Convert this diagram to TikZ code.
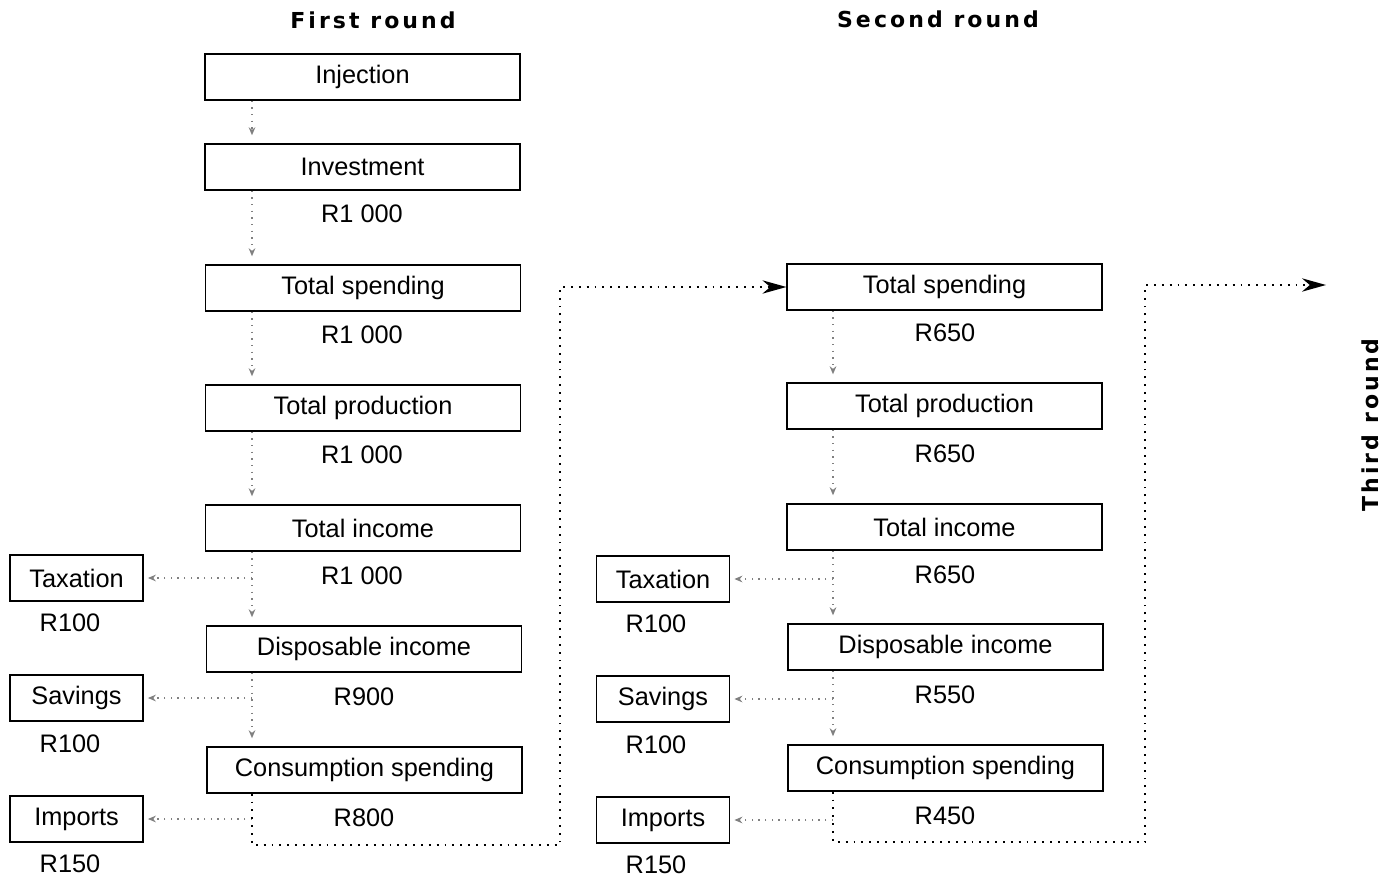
\documentclass[tikz,border=0pt]{standalone}
\usepackage{fontspec}
\setmainfont{Liberation Sans}
\newfontfamily\headfont[LetterSpace=14]{DejaVu Sans}
\usetikzlibrary{arrows.meta}
\begin{document}
\begin{tikzpicture}[x=0.75pt,y=-0.75pt,
  box/.style={draw, line width=1.1pt, minimum width=236pt, minimum height=34.5pt, inner sep=0pt, font=\fontsize{19}{22}\selectfont},
  sbox/.style={draw, line width=1.1pt, minimum width=100pt, minimum height=34.5pt, inner sep=0pt, font=\fontsize{19}{22}\selectfont},
  val/.style={inner sep=0pt, font=\fontsize{19}{22}\selectfont},
  head/.style={inner sep=0pt, font=\headfont\bfseries\fontsize{16.5}{19}\selectfont},
  flow/.style={dash pattern=on 1pt off 4pt, draw=gray, line width=0.9pt, -{Stealth[length=6pt,width=5pt]}, shorten >=6pt},
  side/.style={dash pattern=on 1pt off 4pt, draw=gray, line width=0.9pt, -{Stealth[length=6pt,width=5pt]}, shorten >=3pt},
  loopline/.style={dash pattern=on 1.4pt off 4.5pt, line width=1.4pt, -{Stealth[length=18pt,width=10pt]}}]
\useasboundingbox (0,0) rectangle (1395,880);

% headings
\node[head] (h1) at (373,20) {First round};
\node[head] (h2) at (938,19) {Second round};
\node[head, rotate=90] (h3) at (1370,425) {Third round};

% first round
\node[box] (inj1) at (362.5,77) {Injection};
\node[box] (inv1) at (362.5,167) {Investment};
\node[val] (v0) at (362,214) {R1 000};
\node[box] (ts1) at (363,288) {Total spending};
\node[val] (v1) at (362,335) {R1 000};
\node[box] (tp1) at (363,408) {Total production};
\node[val] (v2) at (362,455) {R1 000};
\node[box] (ti1) at (363,528) {Total income};
\node[val] (v3) at (362,576) {R1 000};
\node[box] (di1) at (364,649) {Disposable income};
\node[val] (v4) at (364,697) {R900};
\node[box] (cs1) at (364.5,770) {Consumption spending};
\node[val] (v5) at (364,818) {R800};

\node[sbox] (tax1) at (76.5,578) {Taxation};
\node[val] (t1v) at (70,623) {R100};
\node[sbox] (sav1) at (76.5,698) {Savings};
\node[val] (s1v) at (70,744) {R100};
\node[sbox] (imp1) at (76.5,819) {Imports};
\node[val] (i1v) at (70,864) {R150};

\coordinate (c1) at (252,0);
\draw[flow] (inj1.south -| c1) -- (inv1.north -| c1);
\draw[flow] (inv1.south -| c1) -- (ts1.north -| c1);
\draw[flow] (ts1.south -| c1) -- (tp1.north -| c1);
\draw[flow] (tp1.south -| c1) -- (ti1.north -| c1);
\draw[flow] (ti1.south -| c1) -- (di1.north -| c1);
\draw[flow] (di1.south -| c1) -- (cs1.north -| c1);
\draw[side] (tax1.east -| c1) -- (tax1.east);
\draw[side] (sav1.east -| c1) -- (sav1.east);
\draw[side] (imp1.east -| c1) -- (imp1.east);

% second round
\node[box] (ts2) at (944.5,287) {Total spending};
\node[val] (w1) at (945,333) {R650};
\node[box] (tp2) at (944.5,406) {Total production};
\node[val] (w2) at (945,454) {R650};
\node[box] (ti2) at (944.5,527) {Total income};
\node[val] (w3) at (945,575) {R650};
\node[box] (di2) at (945.5,647) {Disposable income};
\node[val] (w4) at (945,695) {R550};
\node[box] (cs2) at (945.5,768) {Consumption spending};
\node[val] (w5) at (945,816) {R450};

\node[sbox] (tax2) at (663,579) {Taxation};
\node[val] (t2v) at (656,624) {R100};
\node[sbox] (sav2) at (663,699) {Savings};
\node[val] (s2v) at (656,745) {R100};
\node[sbox] (imp2) at (663,820) {Imports};
\node[val] (i2v) at (656,865) {R150};

\coordinate (c2) at (833,0);
\draw[flow] (ts2.south -| c2) -- (tp2.north -| c2);
\draw[flow] (tp2.south -| c2) -- (ti2.north -| c2);
\draw[flow] (ti2.south -| c2) -- (di2.north -| c2);
\draw[flow] (di2.south -| c2) -- (cs2.north -| c2);
\draw[side] (tax2.east -| c2) -- (tax2.east);
\draw[side] (sav2.east -| c2) -- (sav2.east);
\draw[side] (imp2.east -| c2) -- (imp2.east);

% loops
\coordinate (l1) at (560,845);
\coordinate (l2) at (1145,842);
\coordinate (e3) at (1326,285);
\draw[loopline] (cs1.south -| c1) |- (l1) |- (ts2.west);
\draw[loopline] (cs2.south -| c2) |- (l2) |- (e3);
\end{tikzpicture}
\end{document}
